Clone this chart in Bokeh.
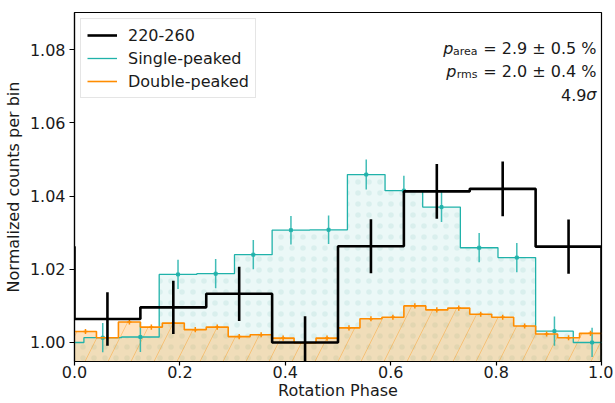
import numpy as np
from bokeh.plotting import figure
from bokeh.models import Range1d, Legend, LegendItem, Label, NumeralTickFormatter, FixedTicker
from bokeh.embed import file_html
from bokeh.resources import INLINE

# ---------------- data ----------------
black_vals = [1.0064, 1.0096, 1.0133, 1.0000, 1.0263, 1.0413, 1.0420, 1.0262]
black_err = [0.0073, 0.0073, 0.0074, 0.0072, 0.0074, 0.0075, 0.0075, 0.0074]

cyan_vals = [1.0013, 1.0015, 1.0186, 1.0188, 1.0240, 1.0307, 1.0308,
             1.0459, 1.0415, 1.0370, 1.0259, 1.0232, 1.0031, 1.0000]
cyan_err = [0.0040, 0.0041, 0.0040, 0.0040, 0.0040, 0.0039, 0.0039,
            0.0041, 0.0041, 0.0041, 0.0040, 0.0040, 0.0040, 0.0040]

orange_vals = [1.0030, 1.0013, 1.0056, 1.0042, 1.0053, 1.0035, 1.0042, 1.0016,
               1.0021, 1.0012, 0.9999, 1.0012, 1.0040, 1.0065, 1.0069, 1.0100,
               1.0089, 1.0094, 1.0077, 1.0069, 1.0045, 1.0023, 1.0013, 1.0025]
orange_err = [0.0007] * 24

x_ticks = [0.0, 0.2, 0.4, 0.6, 0.8, 1.0]
y_ticks = [1.00, 1.02, 1.04, 1.06, 1.08]

labels = ["220-260", "Single-peaked", "Double-peaked"]
ann_rows = [("area", "= 2.9 ± 0.5 %"), ("rms", "= 2.0 ± 0.4 %")]
sig_text = "4.9"

# ---------------- style ----------------
FONT = "DejaVu Sans"
TXT = "#1a1a1a"
BLACK = "#000000"
CYAN = "#20b2aa"
ORANGE = "#ff8c00"
Y0, Y1 = 0.9948, 1.0902
BASE = Y0 - 0.02
FRAME_H = 349.0


def step_xy(edges, vals):
    xs, ys = [], []
    for i, v in enumerate(vals):
        xs += [edges[i], edges[i + 1]]
        ys += [v, v]
    return xs, ys


p = figure(width=613, height=403, output_backend="svg", toolbar_location=None,
           x_range=Range1d(0, 1), y_range=Range1d(Y0, Y1),
           min_border_left=74, min_border_right=12, min_border_top=12, min_border_bottom=42)
p.grid.visible = False
p.outline_line_color = "black"
p.outline_line_width = 1.2
p.background_fill_color = "white"

# cyan (single-peaked): 14 bins offset by a quarter bin, wrapped
nc = len(cyan_vals)
c_edges = (np.arange(-1, nc + 1) + 0.25) / nc
c_vals = [cyan_vals[-1]] + cyan_vals
cx, cy = step_xy(c_edges, c_vals)
p.varea(x=cx, y1=[BASE] * len(cx), y2=cy, fill_color=CYAN, fill_alpha=0.09,
        hatch_pattern="dot", hatch_color="#7fbfb8", hatch_alpha=0.16, hatch_scale=11, hatch_weight=1)

# orange (double-peaked): 24 bins
no = len(orange_vals)
o_edges = np.arange(no + 1) / no
ox, oy = step_xy(o_edges, orange_vals)
p.varea(x=ox, y1=[BASE] * len(ox), y2=oy, fill_color=ORANGE, fill_alpha=0.25,
        hatch_pattern="/", hatch_color=ORANGE, hatch_alpha=0.35, hatch_scale=46, hatch_weight=1)

r_cyan = p.line(cx, cy, line_color=CYAN, line_width=1.3)
c_cent = (np.arange(nc) + 0.75) / nc
p.segment(x0=c_cent, x1=c_cent, y0=np.array(cyan_vals) - np.array(cyan_err),
          y1=np.array(cyan_vals) + np.array(cyan_err), line_color=CYAN, line_width=1.5, line_alpha=0.85)
p.scatter(c_cent, cyan_vals, size=3, marker="square", color=CYAN, alpha=0.85)

r_orange = p.line(ox, oy, line_color=ORANGE, line_width=1.6)
o_cent = (np.arange(no) + 0.5) / no
p.segment(x0=o_cent, x1=o_cent, y0=np.array(orange_vals) - np.array(orange_err),
          y1=np.array(orange_vals) + np.array(orange_err), line_color=ORANGE, line_width=1.5)
p.scatter(o_cent, orange_vals, size=4, marker="dash", color=ORANGE, line_width=1.5)

# black (220-260): 8 bins, drawn over two cycles ending at the baseline
nb = len(black_vals)
b_edges = np.arange(-nb, nb + 1) / nb
bx, by = step_xy(b_edges, black_vals + black_vals)
bx = bx + [bx[-1]]
by = by + [BASE]
r_black = p.line(bx, by, line_color=BLACK, line_width=2.6)
b_cent = (np.arange(nb) + 0.5) / nb
p.segment(x0=b_cent, x1=b_cent, y0=np.array(black_vals) - np.array(black_err),
          y1=np.array(black_vals) + np.array(black_err), line_color=BLACK, line_width=2.6)

# axes
for ax in (p.xaxis[0], p.yaxis[0]):
    ax.axis_line_color = "black"
    ax.axis_line_width = 1.2
    ax.major_tick_line_color = "black"
    ax.major_tick_line_width = 1.2
    ax.major_tick_out = 5
    ax.major_tick_in = 0
    ax.minor_tick_line_color = None
    ax.major_label_text_font = FONT
    ax.major_label_text_font_size = "16px"
    ax.major_label_text_color = TXT
    ax.axis_label_text_font = FONT
    ax.axis_label_text_font_size = "16px"
    ax.axis_label_text_font_style = "normal"
    ax.axis_label_text_color = TXT
p.xaxis.ticker = FixedTicker(ticks=x_ticks)
p.yaxis.ticker = FixedTicker(ticks=y_ticks)
p.xaxis.formatter = NumeralTickFormatter(format="0.0")
p.yaxis.formatter = NumeralTickFormatter(format="0.00")
p.xaxis.axis_label = "Rotation Phase"
p.yaxis.axis_label = "Normalized counts per bin"
p.xaxis.major_tick_out = 4
p.xaxis.major_label_standoff = 0
p.xaxis.axis_label_standoff = 0
p.yaxis.major_label_standoff = 4
p.yaxis.axis_label_standoff = 4

# legend
leg = Legend(items=[LegendItem(label=labels[0], renderers=[r_black]),
                    LegendItem(label=labels[1], renderers=[r_cyan]),
                    LegendItem(label=labels[2], renderers=[r_orange])],
             location="top_left", margin=6, padding=6, spacing=3,
             glyph_width=30, glyph_height=20, label_height=20, label_standoff=11,
             label_text_font=FONT, label_text_font_size="16px", label_text_color=TXT,
             border_line_color="#cccccc", border_line_width=1,
             background_fill_color="white", background_fill_alpha=0.85)
p.add_layout(leg)

# annotation (top right)
ppx = (Y1 - Y0) / FRAME_H
row_base = [Y1 - 35.5 * ppx, Y1 - 58.5 * ppx]
sub_right = -124
p_right = {"area": -148, "rms": -145}
for (sub, txt), yb in zip(ann_rows, row_base):
    p.add_layout(Label(x=1.0, y=yb, x_offset=-5, text=txt, text_align="right",
                       text_baseline="alphabetic", text_font=FONT, text_font_size="16px",
                       text_color=TXT))
    p.add_layout(Label(x=1.0, y=yb - 3.5 * ppx, x_offset=sub_right, text=sub, text_align="right",
                       text_baseline="alphabetic", text_font=FONT, text_font_size="11px",
                       text_color=TXT))
    p.add_layout(Label(x=1.0, y=yb, x_offset=p_right[sub], text="p", text_align="right",
                       text_baseline="alphabetic", text_font=FONT, text_font_size="16px",
                       text_font_style="italic", text_color=TXT))
yb3 = Y1 - 82.0 * ppx
p.add_layout(Label(x=1.0, y=yb3, x_offset=-5, text="σ", text_align="right",
                   text_baseline="alphabetic", text_font=FONT, text_font_size="16px",
                   text_font_style="italic", text_color=TXT))
p.add_layout(Label(x=1.0, y=yb3, x_offset=-15, text=sig_text, text_align="right",
                   text_baseline="alphabetic", text_font=FONT, text_font_size="16px",
                   text_color=TXT))

open("out.html", "w").write(file_html(p, INLINE))
